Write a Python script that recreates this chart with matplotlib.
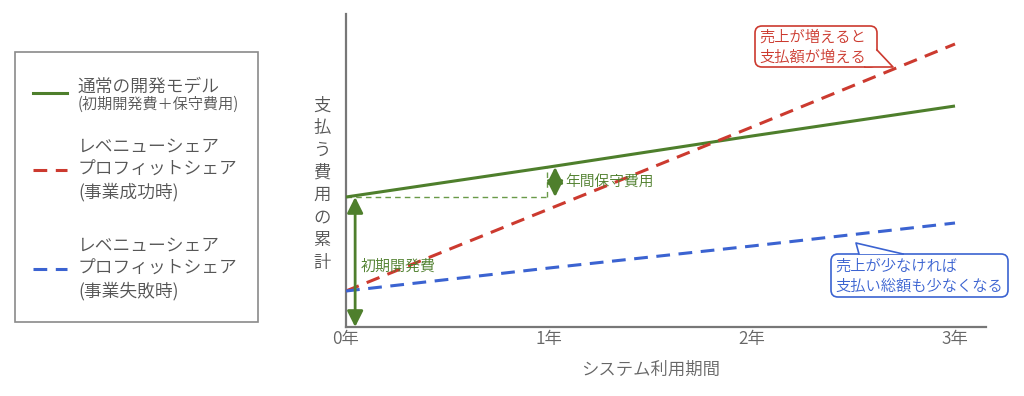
import matplotlib
matplotlib.use("Agg")
import matplotlib.pyplot as plt
from matplotlib.patches import FancyBboxPatch, Polygon, Rectangle
from matplotlib.lines import Line2D

plt.rcParams['font.family'] = ['Noto Sans CJK JP', 'DejaVu Sans']
plt.rcParams['font.weight'] = 350

# data (cost in arbitrary units)
years = [0, 1, 2, 3]
year_labels = ['0年', '1年', '2年', '3年']
normal_cost = [130, 160, 191, 221]
rev_success = [36, 118, 200, 283]
rev_fail = [36, 59, 81, 104]
initial_cost = 130
yearly_maint = 30

legend_labels = [
    ('通常の開発モデル', '(初期開発費＋保守費用)'),
    ('レベニューシェア\nプロフィットシェア\n(事業成功時)', None),
    ('レベニューシェア\nプロフィットシェア\n(事業失敗時)', None),
]

GREEN = '#4e7f2c'
RED = '#cc3a2f'
BLUE = '#3b63d1'
GRAY = '#777777'
TXT = '#555555'

fig = plt.figure(figsize=(10.24, 3.96), dpi=100)

# main axes
ax = fig.add_axes([346 / 1024, 1 - 327 / 396, 640 / 1024, 313 / 396])
ax.set_xlim(0, 640 / 203)
ax.set_ylim(0, 313)
for s in ['top', 'right']:
    ax.spines[s].set_visible(False)
for s in ['left', 'bottom']:
    ax.spines[s].set_color(GRAY)
    ax.spines[s].set_linewidth(1.6)
ax.set_yticks([])
ax.set_xticks(years)
ax.set_xticklabels(year_labels, fontsize=12.5, color='#666666')
ax.tick_params(axis='x', length=0, pad=2)

ax.plot(years, normal_cost, color=GREEN, lw=2.2, solid_capstyle='butt', zorder=3)
ax.plot(years, rev_success, color=RED, lw=2.2, linestyle=(0, (4.5, 2.8)), zorder=3)
ax.plot(years, rev_fail, color=BLUE, lw=2.2, linestyle=(0, (4.5, 2.8)), zorder=3)

# helper lines for maintenance cost
ax.plot([0, 0.99], [initial_cost, initial_cost], color='#6a9a48', lw=1.0,
        linestyle=(0, (4, 3)), zorder=2)
ax.plot([0.99, 0.99], [initial_cost, initial_cost + yearly_maint], color='#6a9a48',
        lw=1.0, linestyle=(0, (4, 3)), zorder=2)

arrow_kw = dict(arrowstyle='<|-|>,head_length=0.6,head_width=0.3', color=GREEN,
                lw=2, shrinkA=0, shrinkB=0, mutation_scale=16)
ax.annotate('', xy=(0.045, 0), xytext=(0.045, initial_cost), arrowprops=arrow_kw)
ax.annotate('', xy=(1.03, initial_cost), xytext=(1.03, initial_cost + yearly_maint),
            arrowprops=arrow_kw)
ax.text(0.07, 60, '初期開発費', color=GREEN, fontsize=10.8, va='center')
ax.text(1.08, 144, '年間保守費用', color=GREEN, fontsize=10.6, va='center')

# overlay in pixel coordinates
ov = fig.add_axes([0, 0, 1, 1], zorder=5)
ov.set_xlim(0, 1024)
ov.set_ylim(396, 0)
ov.axis('off')
ov.patch.set_alpha(0)

ov.text(322, 184, '\n'.join('支払う費用の累計'), color=TXT, fontsize=12.5,
        ha='center', va='center', linespacing=1.32)
ov.text(651, 370, 'システム利用期間', color='#666666', fontsize=12.5,
        ha='center', va='center')

# legend box
ov.add_patch(Rectangle((15, 52), 243, 270, fill=False, edgecolor='#8a8a8a', lw=1.2))
styles = [dict(color=GREEN, lw=2.2, linestyle='-'),
          dict(color=RED, lw=2.2, linestyle=(0, (4.5, 2.8))),
          dict(color=BLUE, lw=2.2, linestyle=(0, (4.5, 2.8)))]
line_y = [93, 170, 269]
text_y = [87, 170, 269]
for (main, sub), st, ly, ty in zip(legend_labels, styles, line_y, text_y):
    ov.add_line(Line2D([33, 67], [ly, ly], **st))
    if sub is None:
        ov.text(78, ty, main, color=TXT, fontsize=12.8, va='center', linespacing=1.28)
    else:
        ov.text(78, ty, main, color=TXT, fontsize=12.8, va='center')
        ov.text(78, ty + 17, sub, color=TXT, fontsize=10.9, va='center')


def callout(x0, y0, x1, y1, tail, color, text, tx, ty):
    box = FancyBboxPatch((x0, y0), x1 - x0, y1 - y0,
                         boxstyle='round,pad=0,rounding_size=7',
                         facecolor='white', edgecolor=color, lw=1.2, zorder=1)
    ov.add_patch(box)
    ov.add_patch(Polygon(tail, closed=True, facecolor='white', edgecolor='none', zorder=2))
    ov.add_line(Line2D([tail[0][0], tail[1][0], tail[2][0]],
                       [tail[0][1], tail[1][1], tail[2][1]], color=color, lw=1.2, zorder=3))
    ov.text(tx, ty, text, color=color, fontsize=11, va='center', linespacing=1.2, zorder=4)


callout(755, 26, 877, 67, [(877, 50), (893, 67), (865, 67)], RED,
        '売上が増えると\n支払額が増える', 759, 47)
callout(831, 254, 1008, 297, [(859, 254), (856, 243), (903, 254)], BLUE,
        '売上が少なければ\n支払い総額も少なくなる', 835, 276)

fig.savefig('out.png', dpi=100)
